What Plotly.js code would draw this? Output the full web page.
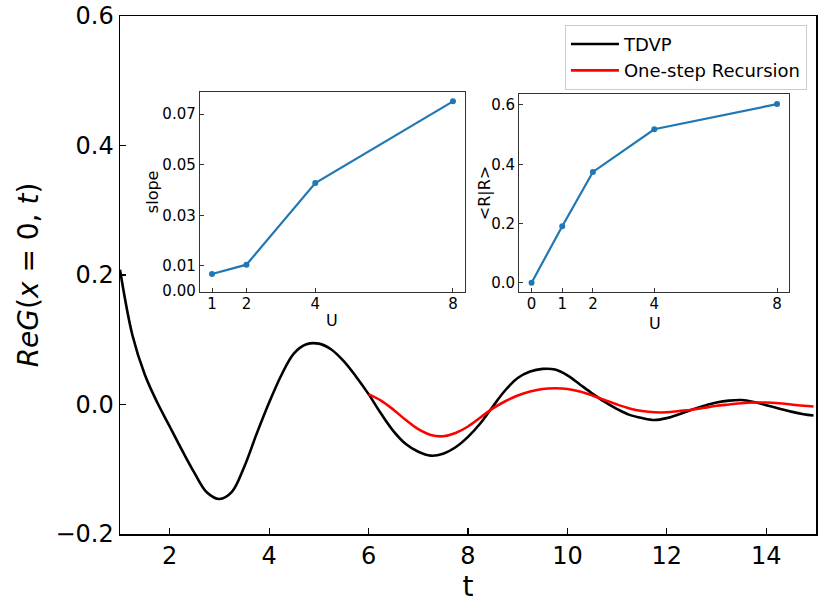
<!DOCTYPE html>
<html>
<head>
<meta charset="utf-8">
<script src="https://cdn.plot.ly/plotly-3.0.1.min.js"></script>
<style>html,body{margin:0;padding:0;background:#fff;}#chart{width:830px;height:605px;}</style>
</head>
<body>
<div id="chart"></div>
<script>
// Main panel: TDVP curve
const tdvpT = [1.00, 1.25, 1.50, 1.75, 2.00, 2.25, 2.50, 2.75, 3.00, 3.25, 3.50, 3.75, 4.00, 4.25, 4.50, 4.75, 5.00, 5.25, 5.50, 5.75, 6.00, 6.25, 6.50, 6.75, 7.00, 7.25, 7.50, 7.75, 8.00, 8.25, 8.50, 8.75, 9.00, 9.25, 9.50, 9.75, 10.00, 10.25, 10.50, 10.75, 11.00, 11.25, 11.50, 11.75, 12.00, 12.25, 12.50, 12.75, 13.00, 13.25, 13.50, 13.75, 14.00, 14.25, 14.50, 14.75, 14.95];
const tdvpY = [0.208, 0.107, 0.046, 0.003, -0.034, -0.071, -0.106, -0.136, -0.146, -0.135, -0.096, -0.045, 0.003, 0.046, 0.079, 0.093, 0.094, 0.085, 0.067, 0.043, 0.016, -0.014, -0.041, -0.061, -0.073, -0.079, -0.076, -0.066, -0.050, -0.029, -0.003, 0.022, 0.041, 0.051, 0.055, 0.054, 0.045, 0.031, 0.017, 0.004, -0.007, -0.016, -0.021, -0.024, -0.021, -0.015, -0.008, -0.002, 0.003, 0.006, 0.007, 0.004, -0.001, -0.006, -0.011, -0.015, -0.017];
// Main panel: One-step Recursion curve
const recT = [6.00, 6.25, 6.50, 6.75, 7.00, 7.25, 7.50, 7.75, 8.00, 8.25, 8.50, 8.75, 9.00, 9.25, 9.50, 9.75, 10.00, 10.25, 10.50, 10.75, 11.00, 11.25, 11.50, 11.75, 12.00, 12.25, 12.50, 12.75, 13.00, 13.25, 13.50, 13.75, 14.00, 14.25, 14.50, 14.75, 14.95];
const recY = [0.016, 0.006, -0.008, -0.024, -0.038, -0.047, -0.049, -0.044, -0.034, -0.020, -0.006, 0.005, 0.014, 0.020, 0.024, 0.025, 0.024, 0.020, 0.014, 0.007, 0.000, -0.006, -0.010, -0.012, -0.012, -0.010, -0.008, -0.005, -0.002, 0.000, 0.002, 0.003, 0.003, 0.002, 0.000, -0.002, -0.003];
// Inset 1: slope vs U
const slopeU = [1, 2, 4, 8];
const slopeV = [0.0068, 0.0105, 0.0428, 0.0751];
const slopeTicks = [0, 0.01, 0.03, 0.05, 0.07];
const slopeTickText = ['0.00', '0.01', '0.03', '0.05', '0.07'];
// Inset 2: <R|R> vs U
const rrU = [0, 1, 2, 4, 8];
const rrV = [0.0, 0.191, 0.374, 0.518, 0.603];
const rrTicks = [0, 0.2, 0.4, 0.6];
// Main tick values
const mainXTicks = [2, 4, 6, 8, 10, 12, 14];
const mainYTicks = [-0.2, 0, 0.2, 0.4, 0.6];

const FONT = 'DejaVu Sans, sans-serif';
const blue = '#1f77b4';

const traces = [
  {x: tdvpT, y: tdvpY, type: 'scatter', mode: 'lines', name: 'TDVP',
   line: {color: 'black', width: 2.6, shape: 'spline', smoothing: 1}, xaxis: 'x', yaxis: 'y'},
  {x: recT, y: recY, type: 'scatter', mode: 'lines', name: 'One-step Recursion',
   line: {color: 'red', width: 2.6, shape: 'spline', smoothing: 1}, xaxis: 'x', yaxis: 'y'},
  {x: slopeU, y: slopeV, type: 'scatter', mode: 'lines+markers', showlegend: false,
   line: {color: blue, width: 2.2}, marker: {color: blue, size: 6}, xaxis: 'x2', yaxis: 'y2'},
  {x: rrU, y: rrV, type: 'scatter', mode: 'lines+markers', showlegend: false,
   line: {color: blue, width: 2.2}, marker: {color: blue, size: 6}, xaxis: 'x3', yaxis: 'y3'}
];

const insetAxis = {
  showline: true, mirror: true, linecolor: '#333', linewidth: 1.2,
  ticks: 'inside', ticklen: 4, tickwidth: 1, tickcolor: '#333',
  showgrid: false, zeroline: false,
  tickfont: {family: FONT, size: 15, color: 'black'}
};

const annFont = {family: FONT, size: 16, color: 'black'};

const layout = {
  width: 830, height: 605,
  margin: {l: 120, r: 14, t: 16, b: 71},
  paper_bgcolor: 'white', plot_bgcolor: 'white',
  font: {family: FONT, color: 'black'},
  showlegend: true,
  legend: {
    x: 0.987, y: 0.983, xanchor: 'right', yanchor: 'top',
    bgcolor: 'white', bordercolor: '#cccccc', borderwidth: 1,
    font: {family: FONT, size: 18, color: 'black'},
    itemwidth: 48, tracegroupgap: 0
  },
  xaxis: {
    domain: [0, 1], range: [1, 15], tickvals: mainXTicks,
    showline: true, mirror: true, linecolor: 'black', linewidth: 1.5,
    ticks: 'inside', ticklen: 6, tickwidth: 1.2, tickcolor: 'black',
    showgrid: false, zeroline: false,
    tickfont: {family: FONT, size: 24, color: 'black'},
    title: {text: 't', font: {family: FONT, size: 28, color: 'black'}, standoff: 6}
  },
  yaxis: {
    domain: [0, 1], range: [-0.2, 0.6], tickvals: mainYTicks, tickformat: '.1f',
    showline: true, mirror: true, linecolor: 'black', linewidth: 1.5,
    ticks: 'inside', ticklen: 6, tickwidth: 1.2, tickcolor: 'black',
    showgrid: false, zeroline: false,
    tickfont: {family: FONT, size: 24, color: 'black'},
    title: {text: '<i>ReG</i>(<i>x</i> = 0, <i>t</i>)', font: {family: FONT, size: 28, color: 'black'}, standoff: 8}
  },
  xaxis2: Object.assign({}, insetAxis, {
    domain: [0.1149, 0.4957], anchor: 'y2', range: [0.65, 8.35], tickvals: slopeU,
    ticklabelstandoff: -2
  }),
  yaxis2: Object.assign({}, insetAxis, {
    domain: [0.4672, 0.8533], anchor: 'x2', range: [-0.0003, 0.0788],
    tickvals: slopeTicks, ticktext: slopeTickText
  }),
  xaxis3: Object.assign({}, insetAxis, {
    domain: [0.5737, 0.9616], anchor: 'y3', range: [-0.4, 8.4], tickvals: rrU,
    ticklabelstandoff: -2
  }),
  yaxis3: Object.assign({}, insetAxis, {
    domain: [0.4672, 0.8494], anchor: 'x3', range: [-0.031, 0.637],
    tickvals: rrTicks, tickformat: '.1f'
  }),
  annotations: [
    {text: 'slope', xref: 'paper', yref: 'paper', x: 0.046, y: 0.660, textangle: -90,
     showarrow: false, xanchor: 'center', yanchor: 'middle', font: annFont},
    {text: '&lt;R|R&gt;', xref: 'paper', yref: 'paper', x: 0.523, y: 0.658, textangle: -90,
     showarrow: false, xanchor: 'center', yanchor: 'middle', font: annFont},
    {text: 'U', xref: 'paper', yref: 'paper', x: 0.3046, y: 0.4112,
     showarrow: false, xanchor: 'center', yanchor: 'middle', font: annFont},
    {text: 'U', xref: 'paper', yref: 'paper', x: 0.7687, y: 0.4073,
     showarrow: false, xanchor: 'center', yanchor: 'middle', font: annFont}
  ]
};

Plotly.newPlot('chart', traces, layout, {displayModeBar: false, staticPlot: true});
</script>
</body>
</html>
